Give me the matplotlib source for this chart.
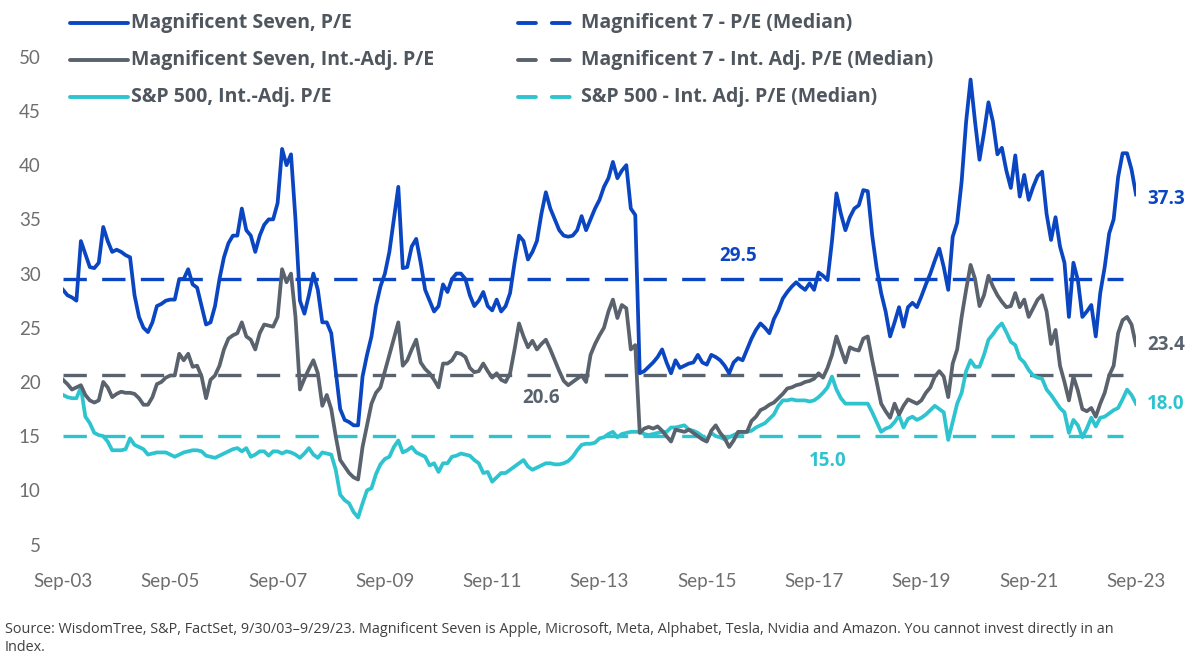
import numpy as np
import matplotlib
matplotlib.use("Agg")
import matplotlib.pyplot as plt
from matplotlib.lines import Line2D

# ---------------- data (monthly, Sep-03 .. Sep-23) ----------------
tick_labels = ['Sep-03', 'Sep-05', 'Sep-07', 'Sep-09', 'Sep-11', 'Sep-13',
               'Sep-15', 'Sep-17', 'Sep-19', 'Sep-21', 'Sep-23']

mag7_pe = [
    28.5, 28.0, 27.8, 27.5, 33.0, 31.8, 30.6, 30.5, 31.0, 34.3,
    33.0, 32.0, 32.2, 32.0, 31.7, 31.5, 28.0, 26.0, 25.0, 24.6,
    25.5, 27.0, 27.2, 27.5, 27.6, 27.6, 29.5, 29.5, 30.4, 29.0,
    28.7, 27.0, 25.3, 25.5, 27.0, 29.5, 31.5, 32.8, 33.5, 33.5,
    36.0, 34.0, 33.5, 32.0, 33.5, 34.5, 35.0, 35.0, 36.5, 41.5,
    40.0, 41.0, 35.0, 27.5, 26.3, 28.0, 30.0, 28.5, 25.5, 25.5,
    24.5, 21.0, 17.5, 16.5, 16.3, 16.0, 16.0, 20.5, 22.5, 24.2,
    27.0, 28.8, 30.0, 32.0, 35.0, 38.0, 30.5, 30.6, 32.5, 33.2,
    31.0, 28.5, 27.5, 26.5, 27.0, 29.0, 28.3, 29.5, 30.0, 30.0,
    29.5, 28.0, 27.0, 27.5, 28.3, 27.0, 26.6, 27.6, 26.5, 27.0,
    28.2, 31.0, 33.5, 33.0, 31.3, 32.0, 33.0, 35.5, 37.5, 36.0,
    35.0, 34.0, 33.5, 33.4, 33.5, 34.0, 35.3, 34.0, 35.0, 36.0,
    36.8, 38.0, 38.8, 40.3, 38.8, 39.5, 40.0, 36.0, 35.4, 20.8,
    21.0, 21.4, 21.8, 22.3, 23.0, 21.8, 20.8, 22.0, 21.3, 21.5,
    21.7, 21.8, 22.5, 21.8, 21.6, 22.5, 22.3, 22.0, 21.5, 20.8,
    21.8, 22.2, 22.0, 23.0, 24.0, 24.8, 25.4, 25.0, 24.5, 25.8,
    26.6, 27.7, 28.3, 28.8, 29.2, 28.8, 28.5, 29.1, 28.5, 30.1,
    29.8, 29.4, 33.0, 37.4, 35.5, 34.0, 35.2, 36.0, 36.3, 37.7,
    37.6, 33.5, 30.5, 28.2, 26.5, 24.2, 25.5, 26.9, 25.1, 26.9,
    27.3, 26.9, 27.9, 29.0, 30.0, 31.2, 32.3, 30.6, 28.5, 33.4,
    34.7, 38.5, 44.0, 47.9, 44.0, 40.5, 43.0, 45.8, 44.0, 41.0,
    41.6, 39.5, 37.9, 40.9, 37.1, 39.1, 36.8, 38.0, 39.0, 39.4,
    35.5, 33.1, 35.2, 32.5, 31.0, 26.0, 31.0, 29.4, 26.0, 26.5,
    27.1, 24.2, 28.2, 30.6, 33.7, 35.0, 38.9, 41.1, 41.1, 39.6, 37.3]

mag7_int_adj = [
    20.2, 19.8, 19.3, 19.5, 19.7, 18.8, 18.3, 18.1, 18.3, 20.0,
    19.5, 18.6, 18.9, 19.1, 19.0, 19.0, 18.9, 18.5, 17.9, 17.9,
    18.6, 19.8, 20.0, 20.4, 20.6, 20.6, 22.6, 22.0, 22.6, 21.4,
    21.5, 20.5, 18.5, 20.2, 20.6, 21.5, 23.0, 24.0, 24.3, 24.5,
    25.5, 24.2, 23.9, 23.0, 24.5, 25.3, 25.2, 25.1, 26.0, 30.4,
    29.2, 30.0, 26.0, 19.3, 20.3, 21.2, 22.0, 20.8, 17.8, 18.8,
    17.5, 15.0, 12.8, 12.2, 11.6, 11.2, 11.0, 14.0, 16.0, 18.0,
    19.0, 19.5, 21.0, 22.5, 24.0, 25.5, 21.5, 22.0, 23.0, 23.9,
    21.8, 21.2, 20.8, 20.2, 19.5, 21.7, 21.7, 22.0, 22.7, 22.6,
    22.3, 21.3, 20.9, 21.0, 21.7, 21.0, 20.4, 20.8, 20.2, 20.0,
    20.8, 23.0, 25.4, 24.2, 23.2, 23.8, 23.0, 23.5, 23.9, 23.0,
    22.0, 21.0, 20.1, 19.7, 20.0, 20.3, 20.6, 20.0, 22.5, 23.5,
    24.3, 25.0, 26.5, 27.6, 25.9, 27.1, 26.8, 23.0, 23.4, 15.3,
    15.7, 15.85, 15.7, 15.9, 15.5, 15.0, 14.5, 15.6, 15.5, 15.4,
    15.6, 15.3, 15.0, 14.7, 14.5, 15.5, 16.0, 15.3, 14.8, 14.0,
    14.6, 15.4, 15.4, 15.4, 16.4, 16.8, 17.4, 17.6, 17.9, 18.1,
    18.5, 18.9, 19.4, 19.5, 19.7, 19.8, 20.0, 20.1, 20.3, 20.8,
    20.4, 21.3, 22.5, 24.2, 23.0, 21.8, 23.2, 23.0, 22.9, 24.0,
    24.2, 22.0, 20.0, 18.0, 17.3, 16.7, 18.0, 17.0, 17.8, 18.4,
    18.2, 18.0, 18.3, 19.0, 19.5, 20.5, 21.0, 20.5, 18.6, 21.7,
    23.0, 26.0, 28.5, 30.8, 29.5, 27.0, 28.0, 29.8, 28.8, 28.0,
    27.4, 26.9, 27.0, 28.2, 26.9, 27.6, 26.0, 26.8, 27.6, 28.0,
    26.5, 23.5, 24.8, 21.5, 20.0, 18.3, 20.5, 19.2, 17.5, 17.3,
    17.6, 16.8, 18.0, 19.0, 20.6, 21.5, 24.5, 25.7, 26.0, 25.3, 23.4]

spx_int_adj = [
    18.8, 18.6, 18.5, 18.5, 19.5, 16.8, 16.2, 15.3, 15.1, 15.0,
    14.5, 13.7, 13.7, 13.7, 13.8, 14.8, 14.2, 14.0, 13.8, 13.3,
    13.4, 13.5, 13.5, 13.5, 13.3, 13.1, 13.3, 13.5, 13.6, 13.7,
    13.7, 13.6, 13.2, 13.1, 13.0, 13.2, 13.4, 13.6, 13.8, 13.9,
    13.6, 13.9, 13.1, 13.3, 13.6, 13.6, 13.2, 13.6, 13.6, 13.4,
    13.6, 13.5, 13.3, 13.0, 13.4, 13.9, 13.3, 13.0, 13.5, 13.4,
    13.3, 11.9, 9.6, 9.1, 8.8, 8.0, 7.5, 8.8, 10.0, 10.2,
    11.5, 12.4, 12.9, 13.1, 14.0, 14.6, 13.5, 13.7, 14.0, 13.5,
    13.3, 13.1, 12.3, 12.5, 11.7, 12.5, 12.5, 13.1, 13.2, 13.4,
    13.3, 13.2, 12.8, 12.5, 11.6, 11.7, 10.8, 11.2, 11.6, 11.6,
    11.9, 12.2, 12.5, 12.8, 12.2, 11.9, 12.1, 12.3, 12.5, 12.5,
    12.4, 12.4, 12.5, 12.7, 13.1, 13.7, 14.2, 14.3, 14.3, 14.4,
    14.8, 14.9, 15.2, 15.4, 14.9, 15.2, 15.3, 15.4, 15.4, 15.4,
    15.2, 15.1, 15.2, 15.3, 15.4, 15.4, 15.8, 15.8, 15.9, 16.0,
    15.6, 15.5, 15.3, 15.0, 14.7, 15.3, 15.0, 14.9, 14.7, 14.9,
    15.1, 15.3, 15.3, 15.4, 15.5, 15.8, 16.0, 16.2, 16.6, 17.0,
    17.8, 18.3, 18.3, 18.4, 18.3, 18.3, 18.3, 18.2, 18.3, 18.6,
    19.0, 19.5, 20.5, 19.3, 18.5, 18.0, 18.0, 18.0, 18.0, 18.0,
    18.0, 17.2, 16.3, 15.4, 15.7, 15.85, 16.3, 16.9, 15.8, 16.6,
    16.8, 16.5, 16.7, 17.0, 17.4, 17.8, 17.5, 17.2, 14.65, 16.3,
    18.0, 19.0, 21.0, 22.0, 21.4, 21.4, 22.5, 23.9, 24.4, 25.0,
    25.4, 24.6, 23.7, 23.4, 22.2, 21.8, 21.1, 20.6, 20.4, 20.3,
    19.3, 18.8, 18.2, 17.6, 17.2, 15.3, 16.5, 16.0, 14.9, 15.7,
    16.7, 15.9, 16.7, 16.8, 17.1, 17.4, 17.6, 18.4, 19.3, 18.8, 18.0]

medians = [29.5, 20.6, 15.0]
median_end = 237   # month index where the median lines stop

series_names = ['Magnificent Seven, P/E',
                'Magnificent Seven, Int.-Adj. P/E',
                'S&P 500, Int.-Adj. P/E']
median_names = ['Magnificent 7 - P/E (Median)',
                'Magnificent 7 - Int. Adj. P/E (Median)',
                'S&P 500 - Int. Adj. P/E (Median)']
source_text = ("Source: WisdomTree, S&P, FactSet, 9/30/03\u20139/29/23. Magnificent Seven is Apple, "
               "Microsoft, Meta, Alphabet, Tesla, Nvidia and Amazon. You cannot invest directly in an\nIndex.")

# ---------------- styling ----------------
BLUE = '#0B46C2'
GRAY = '#59626D'
CYAN = '#2EC4CF'
colors = [BLUE, GRAY, CYAN]
TEXT = '#4F565E'
NOTE = '#3F3F3F'
TICK = '#6E6E6E'

plt.rcParams['font.family'] = ['Open Sans', 'DejaVu Sans']

W, H = 1200, 670
fig = plt.figure(figsize=(W / 100, H / 100), dpi=100)
fig.patch.set_facecolor('white')


def fx(px):
    return px / W


def fy(py):
    return 1 - py / H


# axes placement (pixels)
ax_left, ax_right = 63, 1136
ylo, yhi = 3.0, 52.0
ax_top = 163 - (yhi - 40.2) * 10.84
ax_bot = 163 + (40.2 - ylo) * 10.84
ax = fig.add_axes([fx(ax_left), fy(ax_bot), fx(ax_right - ax_left), (ax_bot - ax_top) / H])

months = np.arange(len(mag7_pe))
series = [mag7_pe, mag7_int_adj, spx_int_adj]

# median dashed lines
for med, c in zip(medians, colors):
    ax.plot([0, median_end], [med, med], color=c, lw=2.4, dashes=(7.0, 4.6),
            dash_capstyle='butt', zorder=2)

# series (cyan first, blue last)
for s, c, z in zip(series[::-1], colors[::-1], [3, 4, 5]):
    ax.plot(months, s, color=c, lw=2.7, solid_joinstyle='round', zorder=z)

ax.set_xlim(0, 240)
ax.set_ylim(ylo, yhi)
for sp in ax.spines.values():
    sp.set_visible(False)
ax.set_xticks(np.arange(0, 241, 24))
ax.set_xticklabels(tick_labels, family=['Lato', 'DejaVu Sans'])
ax.set_yticks(np.arange(5, 51, 5))
for lbl in ax.get_yticklabels():
    lbl.set_family(['Lato', 'DejaVu Sans'])
ax.tick_params(axis='both', length=0, labelsize=13.5, labelcolor=TICK)
ax.tick_params(axis='x', pad=5)
ax.tick_params(axis='y', pad=16)

# median labels
med_lbl_pos = [(151, 16.5), (107, -16.0), (171, -18.0)]  # (month, offset pt)
for med, c, (m, off) in zip(medians, colors, med_lbl_pos):
    ax.annotate(f'{med:.1f}', xy=(m, med), xytext=(0, off), textcoords='offset points',
                ha='center', va='center', color=c, fontsize=13.5, fontweight='bold')

# end labels
end_offsets = [-3.5, 0, 0]
for s, c, off in zip(series, colors, end_offsets):
    ax.annotate(f'{s[-1]:.1f}', xy=(months[-1], s[-1]), xytext=(8.0, off),
                textcoords='offset points', ha='left', va='center', color=c,
                fontsize=13.5, fontweight='bold', annotation_clip=False)

# legend (manual)
rows = [23, 60, 97]
for r, c, name in zip(rows, colors, series_names):
    fig.add_artist(Line2D([fx(70), fx(128)], [fy(r), fy(r)], color=c, lw=2.8,
                          solid_capstyle='round', transform=fig.transFigure))
    fig.text(fx(131), fy(r), name, color=TEXT, fontsize=14, fontweight='bold',
             ha='left', va='center')
for r, c, name in zip(rows, colors, median_names):
    fig.add_artist(Line2D([fx(518), fx(571)], [fy(r), fy(r)], color=c, lw=2.8,
                          dashes=(4.6, 4.1), dash_capstyle='round',
                          transform=fig.transFigure))
    fig.text(fx(581), fy(r), name, color=TEXT, fontsize=14, fontweight='bold',
             ha='left', va='center')

# source note
fig.text(fx(5), fy(622), source_text, color=NOTE, fontsize=10.4, ha='left', va='top',
         linespacing=1.25)

fig.savefig('out.png', dpi=100, facecolor='white')
